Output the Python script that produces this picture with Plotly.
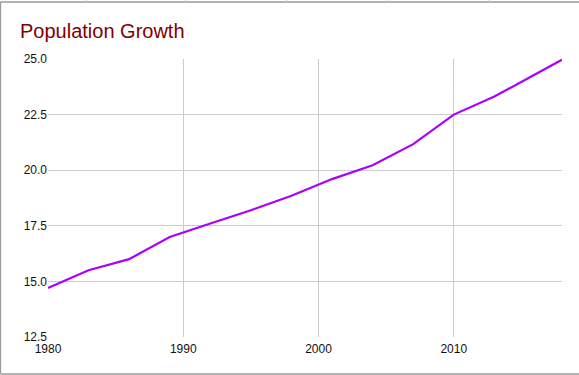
import plotly.graph_objects as go

years = [1980, 1983, 1986, 1989, 1992, 1995, 1998, 2001, 2004, 2007, 2010, 2013, 2016, 2018]
population = [14.7, 15.5, 16.0, 17.0, 17.6, 18.2, 18.85, 19.6, 20.22, 21.17, 22.5, 23.31, 24.3, 24.97]
y_ticks = [12.5, 15.0, 17.5, 20.0, 22.5, 25.0]
x_ticks = [1980, 1990, 2000, 2010]

W, H = 579, 375
L, R, T, B = 48, 17, 59, 38
pw, ph = W - L - R, H - T - B

def px(x):
    return (x - L) / pw

def py(y):
    return (H - B - y) / ph

fig = go.Figure()
fig.add_trace(go.Scatter(x=years, y=population, mode="lines",
                         line=dict(color="#aa00ff", width=2.2), hoverinfo="x+y"))

shapes = [
    dict(type="line", xref="paper", yref="paper", x0=px(0.5), x1=px(590), y0=py(2), y1=py(2),
         line=dict(color="#9a9a9a", width=1.3)),
    dict(type="line", xref="paper", yref="paper", x0=px(0.5), x1=px(0.5), y0=py(2), y1=py(374),
         line=dict(color="#9a9a9a", width=1.3)),
    dict(type="line", xref="paper", yref="paper", x0=px(0.5), x1=px(590), y0=py(374), y1=py(374),
         line=dict(color="#9a9a9a", width=1.3)),
]
for xx in [86, 186, 287, 389, 489]:
    shapes.append(dict(type="line", xref="paper", yref="paper", x0=px(xx), x1=px(xx),
                       y0=py(-2), y1=py(2), line=dict(color="#cfcfcf", width=1)))

fig.update_layout(
    width=W, height=H,
    margin=dict(l=L, r=R, t=T, b=B),
    paper_bgcolor="white", plot_bgcolor="white",
    showlegend=False,
    font=dict(family="Arial, Liberation Sans, sans-serif", size=12, color="#111111"),
    title=dict(text="Population Growth", font=dict(size=20, color="#800000",
               family="Arial, Liberation Sans, sans-serif"),
               xref="container", yref="container", x=20 / W, xanchor="left",
               y=1 - 31 / H, yanchor="middle"),
    xaxis=dict(range=[1980, 2018], tickvals=x_ticks, showgrid=True, gridcolor="#cccccc",
               gridwidth=1, zeroline=False, showline=False, ticks="", ticklen=0,
               ticklabelstandoff=3,
               tickfont=dict(size=12, color="#111111")),
    yaxis=dict(range=[12.5, 25.0], tickvals=y_ticks, tickformat=".1f", showgrid=True,
               gridcolor="#cccccc", gridwidth=1, zeroline=False, showline=False, ticks="",
               tickfont=dict(size=12, color="#111111")),
    shapes=shapes,
)
fig.write_html("out.html", config={"displayModeBar": False},
               post_script="document.body.style.margin='0';document.body.style.overflow='hidden';")
